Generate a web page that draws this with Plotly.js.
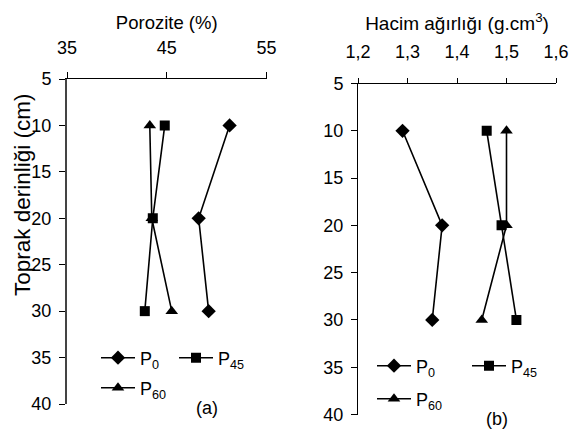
<!DOCTYPE html>
<html><head><meta charset="utf-8">
<script src="https://cdn.plot.ly/plotly-3.0.1.min.js"></script>
<style>html,body{margin:0;padding:0;background:#fff}</style>
</head><body><div id="chart" style="width:571px;height:435px"></div>
<script>
// ---- data ----
const depth = [10, 20, 30];
const porP0 = [51.3, 48.2, 49.2];
const porP45 = [44.8, 43.6, 42.8];
const porP60 = [43.3, 43.5, 45.5];
const bdP0 = [1.29, 1.37, 1.35];
const bdP45 = [1.46, 1.49, 1.52];
const bdP60 = [1.50, 1.50, 1.45];
const seriesNames = ['P<sub>0</sub>', 'P<sub>45</sub>', 'P<sub>60</sub>'];
const depthTicks = [5, 10, 15, 20, 25, 30, 35, 40];
const porTicks = [35, 45, 55];
const bdTicks = [1.2, 1.3, 1.4, 1.5, 1.6];

const W = 571, H = 435;
const FONT = 'Liberation Sans, Arial, sans-serif';
const px = v => v / W, py = v => 1 - v / H;
const symbols = ['diamond', 'square', 'triangle-up'];
const msize = [11, 10, 11];

function mk(x, i, xa, ya, leg) {
  return {
    x: x, y: depth, xaxis: xa, yaxis: ya, type: 'scatter', mode: 'lines+markers',
    name: seriesNames[i], legend: leg,
    line: {color: '#000', width: 1.6},
    marker: {symbol: symbols[i], size: msize[i], color: '#000'}
  };
}
const traces = [
  mk(porP0, 0, 'x', 'y', 'legend'),
  mk(porP45, 1, 'x', 'y', 'legend2'),
  mk(porP60, 2, 'x', 'y', 'legend3'),
  mk(bdP0, 0, 'x2', 'y2', 'legend4'),
  mk(bdP45, 1, 'x2', 'y2', 'legend5'),
  mk(bdP60, 2, 'x2', 'y2', 'legend6')
];

function leg(xs, ys) {
  return {x: px(xs - 5), y: py(ys), xanchor: 'left', yanchor: 'middle',
    bgcolor: 'rgba(0,0,0,0)', borderwidth: 0, font: {family: FONT, size: 18, color: '#000'},
    itemwidth: 34, tracegroupgap: 0};
}

const axBase = {showgrid: false, zeroline: false, showline: true, linecolor: '#000', linewidth: 1,
  ticks: 'outside', ticklen: 6, tickcolor: '#000', tickfont: {family: FONT, size: 18, color: '#000'}};

const layout = {
  width: W, height: H, margin: {l: 0, r: 0, t: 0, b: 0},
  paper_bgcolor: '#fff', plot_bgcolor: '#fff', showlegend: true,
  separators: ', ',
  font: {family: FONT, size: 18, color: '#000'},
  xaxis: Object.assign({}, axBase, {domain: [px(67), px(266.5)], range: [35, 55], side: 'top',
    anchor: 'y', tickvals: porTicks, ticklabelstandoff: 11,
    title: {text: 'Porozite (%)', font: {family: FONT, size: 18.5}, standoff: 3}}),
  yaxis: Object.assign({}, axBase, {domain: [py(404), py(79)], range: [40, 5], anchor: 'x',
    tickvals: depthTicks, linecolor: '#444', linewidth: 2, ticklabelstandoff: 4}),
  xaxis2: Object.assign({}, axBase, {domain: [px(358), px(556)], range: [1.2, 1.6], side: 'top',
    anchor: 'y2', tickvals: bdTicks, tickformat: '.1f', ticklen: 5, ticklabelstandoff: 12,
    title: {text: 'Hacim ağırlığı (g.cm<sup>3</sup>)', font: {family: FONT, size: 19}, standoff: 6}}),
  yaxis2: Object.assign({}, axBase, {domain: [py(414.5), py(83.5)], range: [40, 5], anchor: 'x2',
    tickvals: depthTicks, ticklabelstandoff: 4}),
  legend: leg(101, 358),
  legend2: leg(179, 358),
  legend3: leg(101, 388),
  legend4: leg(377, 366),
  legend5: leg(472, 366),
  legend6: leg(377, 399),
  annotations: [
    {text: 'Toprak derinliği (cm)', xref: 'paper', yref: 'paper', x: px(22), y: py(195),
      xanchor: 'center', yanchor: 'middle',
      textangle: -90, showarrow: false, font: {family: FONT, size: 22.5, color: '#000'}},
    {text: '(a)', xref: 'paper', yref: 'paper', x: px(207), y: py(408), showarrow: false,
      xanchor: 'center', yanchor: 'middle', font: {family: FONT, size: 18, color: '#000'}},
    {text: '(b)', xref: 'paper', yref: 'paper', x: px(497), y: py(419), showarrow: false,
      xanchor: 'center', yanchor: 'middle', font: {family: FONT, size: 18, color: '#000'}}
  ]
};
Plotly.newPlot('chart', traces, layout, {displayModeBar: false, staticPlot: true});
</script></body></html>
